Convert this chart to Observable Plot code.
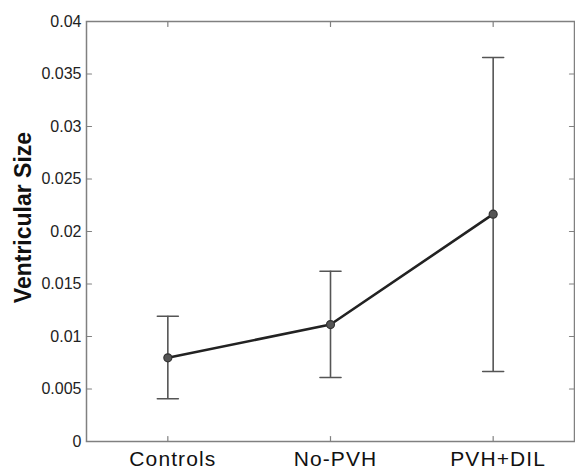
<!DOCTYPE html>
<html>
<head>
<meta charset="utf-8">
<script src="https://cdn.jsdelivr.net/npm/d3@7"></script>
<script src="https://cdn.jsdelivr.net/npm/@observablehq/plot@0.6"></script>
<style>
  html, body { margin: 0; padding: 0; background: #fff; }
  #chart svg { display: block; }
  #chart g[aria-label="x-axis tick label"] text { letter-spacing: 1.1px; }
</style>
</head>
<body>
<div id="chart"></div>
<script>
const groups = ["Controls", "No-PVH", "PVH+DIL"];
const means = [0.00797, 0.01114, 0.02165];
const lower = [0.00407, 0.0061, 0.00667];
const upper = [0.01193, 0.01622, 0.03657];
const yTicks = [0, 0.005, 0.01, 0.015, 0.02, 0.025, 0.03, 0.035, 0.04];
const yTickLabels = ["0", "0.005", "0.01", "0.015", "0.02", "0.025", "0.03", "0.035", "0.04"];
const yLabel = "Ventricular Size";

const data = groups.map((g, i) => ({pos: i + 1, group: g, mean: means[i], lo: lower[i], hi: upper[i]}));
const xTicks = data.map(d => d.pos);

const lineShape = {
  draw(context, l) {
    context.moveTo(0, 0);
    context.lineTo(0, -l);
  }
};

const font = "'Liberation Sans', Arial, Helvetica, sans-serif";
const axisColor = "#808080";

function inwardTicks(values, channel, frameAnchor, rotate) {
  return Plot.vector(values, {[channel]: d => d, frameAnchor, rotate, length: 5, anchor: "start", shape: lineShape, stroke: axisColor, strokeWidth: 1.2});
}

const chart = Plot.plot({
  width: 575,
  height: 470,
  marginLeft: 86,
  marginRight: 1,
  marginTop: 21,
  marginBottom: 29,
  style: {fontFamily: font, background: "#fff", overflow: "visible"},
  x: {domain: [0.5, 3.5]},
  y: {domain: [0, 0.04]},
  marks: [
    Plot.frame({stroke: axisColor, strokeWidth: 1.5}),
    Plot.axisY({ticks: yTicks, tickFormat: d => yTickLabels[yTicks.indexOf(d)], tickSize: 0, tickPadding: 5, fill: "#222", fontSize: 16, label: null}),
    Plot.axisX({ticks: xTicks, tickFormat: d => groups[d - 1], tickSize: 0, tickPadding: 10, fill: "#111", fontSize: 21, dx: 5, label: null}),
    inwardTicks(yTicks, "y", "left", 90),
    inwardTicks(yTicks, "y", "right", -90),
    inwardTicks(xTicks, "x", "bottom", 0),
    inwardTicks(xTicks, "x", "top", 180),
    Plot.text([yLabel], {frameAnchor: "left", textAnchor: "middle", rotate: -90, dx: -63, dy: -14, fontSize: 23, fontWeight: "bold", fill: "#111", text: d => d}),
    Plot.ruleX(data, {x: "pos", y1: "lo", y2: "hi", stroke: "#555", strokeWidth: 1.6}),
    Plot.vector(data, {x: "pos", y: "hi", rotate: 90, length: 21, anchor: "middle", shape: lineShape, stroke: "#555", strokeWidth: 1.6}),
    Plot.vector(data, {x: "pos", y: "lo", rotate: 90, length: 21, anchor: "middle", shape: lineShape, stroke: "#555", strokeWidth: 1.6}),
    Plot.line(data, {x: "pos", y: "mean", stroke: "#222", strokeWidth: 2.6}),
    Plot.dot(data, {x: "pos", y: "mean", r: 4, fill: "#555", stroke: "#333", strokeWidth: 1.2})
  ]
});

document.getElementById("chart").appendChild(chart);
</script>
</body>
</html>
